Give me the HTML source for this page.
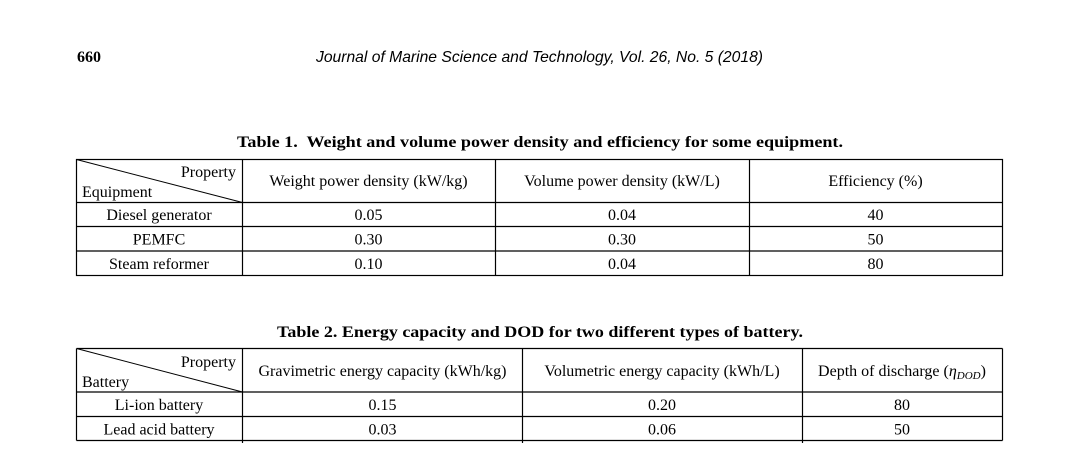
<!DOCTYPE html>
<html>
<head>
<meta charset="utf-8">
<style>
  html, body { margin:0; padding:0; background:#fff; }
  body { width:1079px; height:462px; overflow:hidden; }
  svg { display:block; }
  text { font-family: "Liberation Serif", "DejaVu Serif", serif; font-size:16px; fill:#000; }
  .sans { font-family: "Liberation Sans", "DejaVu Sans", sans-serif; }
</style>
</head>
<body>
<svg width="1079" height="462" viewBox="0 0 1079 462" xmlns="http://www.w3.org/2000/svg">
  <rect width="1079" height="462" fill="#fff"/>

  <!-- Running header -->
  <text x="77" y="62" font-weight="bold" font-size="14">660</text>
  <text class="sans" x="316" y="62" font-style="italic" font-size="15.2" textLength="447" lengthAdjust="spacingAndGlyphs">Journal of Marine Science and Technology, Vol. 26, No. 5 (2018)</text>

  <!-- Table 1 title -->
  <text x="237" y="147" font-weight="bold" font-size="16.5" textLength="606" lengthAdjust="spacingAndGlyphs" xml:space="preserve">Table 1.  Weight and volume power density and efficiency for some equipment.</text>

  <!-- Table 1 lines -->
  <g stroke="#000" stroke-width="1.2" fill="none">
    <rect x="76.5" y="159.5" width="926" height="116"/>
    <line x1="76.5" y1="202.5" x2="1002.5" y2="202.5"/>
    <line x1="76.5" y1="226.5" x2="1002.5" y2="226.5"/>
    <line x1="76.5" y1="251" x2="1002.5" y2="251"/>
    <line x1="242.5" y1="159.5" x2="242.5" y2="275.5"/>
    <line x1="495.5" y1="159.5" x2="495.5" y2="275.5"/>
    <line x1="749.5" y1="159.5" x2="749.5" y2="275.5"/>
    <line x1="76.5" y1="159.5" x2="242.5" y2="202.5" stroke-width="1"/>
  </g>

  <!-- Table 1 header -->
  <text x="236" y="177" text-anchor="end">Property</text>
  <text x="82" y="197">Equipment</text>
  <text x="368.5" y="186" text-anchor="middle">Weight power density (kW/kg)</text>
  <text x="622" y="186" text-anchor="middle">Volume power density (kW/L)</text>
  <text x="875.5" y="186" text-anchor="middle">Efficiency (%)</text>

  <!-- Table 1 rows -->
  <text x="159" y="220" text-anchor="middle">Diesel generator</text>
  <text x="368.5" y="220" text-anchor="middle">0.05</text>
  <text x="622" y="220" text-anchor="middle">0.04</text>
  <text x="875.5" y="220" text-anchor="middle">40</text>

  <text x="159" y="244.5" text-anchor="middle">PEMFC</text>
  <text x="368.5" y="244.5" text-anchor="middle">0.30</text>
  <text x="622" y="244.5" text-anchor="middle">0.30</text>
  <text x="875.5" y="244.5" text-anchor="middle">50</text>

  <text x="159" y="269" text-anchor="middle">Steam reformer</text>
  <text x="368.5" y="269" text-anchor="middle">0.10</text>
  <text x="622" y="269" text-anchor="middle">0.04</text>
  <text x="875.5" y="269" text-anchor="middle">80</text>

  <!-- Table 2 title -->
  <text x="277" y="337" font-weight="bold" font-size="16.5" textLength="526" lengthAdjust="spacingAndGlyphs">Table 2. Energy capacity and DOD for two different types of battery.</text>

  <!-- Table 2 lines -->
  <g stroke="#000" stroke-width="1.2" fill="none">
    <line x1="76.5" y1="348.5" x2="1002.5" y2="348.5"/>
    <line x1="76.5" y1="392" x2="1002.5" y2="392"/>
    <line x1="76.5" y1="416.5" x2="1002.5" y2="416.5"/>
    <line x1="76.5" y1="440.5" x2="1002.5" y2="440.5"/>
    <line x1="76.5" y1="348.5" x2="76.5" y2="440.5"/>
    <line x1="1002.5" y1="348.5" x2="1002.5" y2="440.5"/>
    <line x1="242.5" y1="348.5" x2="242.5" y2="443"/>
    <line x1="522.5" y1="348.5" x2="522.5" y2="443"/>
    <line x1="802.5" y1="348.5" x2="802.5" y2="443"/>
    <line x1="76.5" y1="348.5" x2="242.5" y2="392" stroke-width="1"/>
  </g>

  <!-- Table 2 header -->
  <text x="236" y="367" text-anchor="end">Property</text>
  <text x="82" y="387">Battery</text>
  <text x="382.5" y="376" text-anchor="middle">Gravimetric energy capacity (kWh/kg)</text>
  <text x="662" y="376" text-anchor="middle">Volumetric energy capacity (kWh/L)</text>
  <text x="902" y="376" text-anchor="middle">Depth of discharge (<tspan font-style="italic">η</tspan><tspan font-style="italic" font-size="11" dy="3">DOD</tspan><tspan dy="-3">)</tspan></text>

  <!-- Table 2 rows -->
  <text x="159" y="410" text-anchor="middle">Li-ion battery</text>
  <text x="382.5" y="410" text-anchor="middle">0.15</text>
  <text x="662" y="410" text-anchor="middle">0.20</text>
  <text x="902" y="410" text-anchor="middle">80</text>

  <text x="159" y="434.5" text-anchor="middle">Lead acid battery</text>
  <text x="382.5" y="434.5" text-anchor="middle">0.03</text>
  <text x="662" y="434.5" text-anchor="middle">0.06</text>
  <text x="902" y="434.5" text-anchor="middle">50</text>
</svg>
</body>
</html>
